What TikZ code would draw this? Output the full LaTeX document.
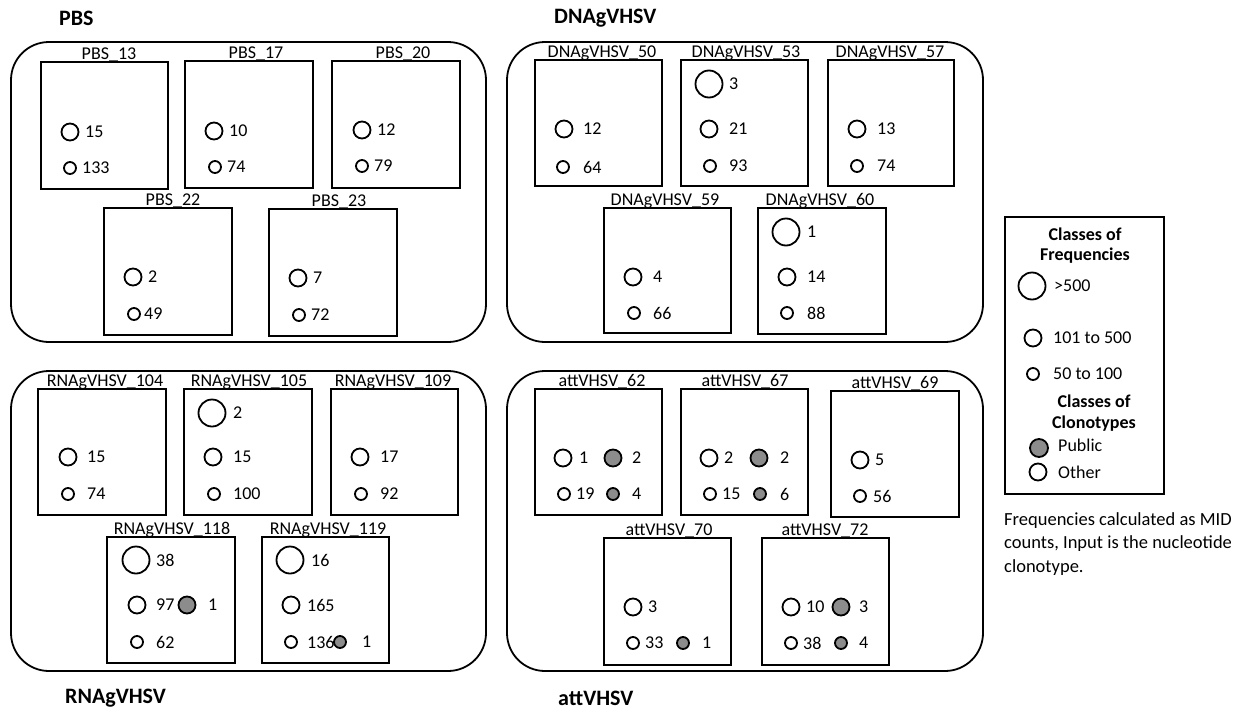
\documentclass[tikz,border=0pt]{standalone}
\usepackage{fontspec}
\setmainfont{Carlito}
\definecolor{pubgray}{RGB}{140,140,140}
\tikzset{
  grp/.style={draw, line width=1.8pt, rounded corners=38pt},
  sample/.style={draw, line width=2pt, inner sep=0pt, outer sep=0pt},
  slabel/.style={font=\fontsize{18}{20}\selectfont, inner sep=0pt, anchor=base},
  title/.style={font=\fontsize{22}{24}\selectfont\bfseries, inner sep=0pt, anchor=west},
  num/.style={font=\fontsize{18}{20}\selectfont, inner sep=0pt, anchor=west},
  freq/.style={circle, draw, line width=1.8pt, inner sep=0pt, outer sep=0pt},
  big/.style={freq, minimum size=27pt},
  mid/.style={freq, minimum size=17pt},
  small/.style={freq, minimum size=12pt},
  pub/.style={fill=pubgray},
}
% sample box: name, left, top, right, bottom, label, label centre x
\newcommand\samplebox[7]{%
  \node[sample, minimum width={#4-#2}, minimum height={#5-#3}]
    (#1) at ({(#2+#4)/2},{(#3+#5)/2}) {};
  \node[slabel] (#1-lab) at (#7,#3-3) {#6};
}
% circle with its count: name, style, centre x, centre y, text x, text
\newcommand\clone[6]{%
  \node[#2] (#1) at (#3,#4) {};
  \node[num] (#1-n) at (#5,#4) {#6};
}
\begin{document}
\begin{tikzpicture}[x=1pt, y=-1pt]
\useasboundingbox (0,0) rectangle (1239,712);

% ---------- group frames and titles ----------
\node[grp, minimum width=475, minimum height=300] (gPBS) at (248.5,192) {};
\node[grp, minimum width=476, minimum height=300] (gDNA) at (745,192) {};
\node[grp, minimum width=475, minimum height=300] (gRNA) at (248.5,521) {};
\node[grp, minimum width=476, minimum height=300] (gATT) at (745,521) {};

\node[title] (tPBS) at (59,18) {PBS};
\node[title] (tDNA) at (554,18) {DNAgVHSV};
\node[title] (tRNA) at (65,698) {RNAgVHSV};
\node[title] (tATT) at (558,698) {attVHSV};

% ---------- PBS ----------
\samplebox{p13}{41}{62}{168}{189}{PBS\_13}{109}
\clone{p13b}{mid}{70}{132}{85}{15}
\clone{p13c}{small}{70}{168}{82}{133}
\samplebox{p17}{185}{61}{313}{188}{PBS\_17}{256}
\clone{p17b}{mid}{214}{131}{229}{10}
\clone{p17c}{small}{215}{167}{227}{74}
\samplebox{p20}{332}{61}{460}{188}{PBS\_20}{403}
\clone{p20b}{mid}{362}{130}{377}{12}
\clone{p20c}{small}{362}{166}{374}{79}
\samplebox{p22}{104}{208}{232}{335}{PBS\_22}{173}
\clone{p22b}{mid}{133}{277}{148}{2}
\clone{p22c}{small}{134}{314}{144}{49}
\samplebox{p23}{269}{209}{397}{336}{PBS\_23}{339}
\clone{p23b}{mid}{298}{278}{313}{7}
\clone{p23c}{small}{299}{315}{311}{72}

% ---------- DNAgVHSV ----------
\samplebox{d50}{535}{60}{662}{186}{DNAgVHSV\_50}{602}
\clone{d50b}{mid}{564}{129}{583}{12}
\clone{d50c}{small}{563}{167}{583}{64}
\samplebox{d53}{681}{60}{808}{186}{DNAgVHSV\_53}{746}
\clone{d53a}{big}{709}{84}{729}{3}
\clone{d53b}{mid}{709}{129}{729}{21}
\clone{d53c}{small}{710}{166}{729}{93}
\samplebox{d57}{828}{60}{954}{186}{DNAgVHSV\_57}{890}
\clone{d57b}{mid}{857}{129}{877}{13}
\clone{d57c}{small}{857}{166}{877}{74}
\samplebox{d59}{604}{208}{731}{333}{DNAgVHSV\_59}{665}
\clone{d59b}{mid}{633}{277}{653}{4}
\clone{d59c}{small}{634}{313}{653}{66}
\samplebox{d60}{758}{208}{886}{334}{DNAgVHSV\_60}{820}
\clone{d60a}{big}{786}{232}{807}{1}
\clone{d60b}{mid}{787}{277}{807}{14}
\clone{d60c}{small}{787}{313}{807}{88}

% ---------- RNAgVHSV ----------
\samplebox{r104}{38}{389}{166}{515}{RNAgVHSV\_104}{105}
\clone{r104b}{mid}{68}{457}{87}{15}
\clone{r104c}{small}{68}{494}{87}{74}
\samplebox{r105}{184}{389}{312}{515}{RNAgVHSV\_105}{249}
\clone{r105a}{big}{212}{413}{233}{2}
\clone{r105b}{mid}{213}{457}{233}{15}
\clone{r105c}{small}{214}{494}{233}{100}
\samplebox{r109}{331}{389}{458}{515}{RNAgVHSV\_109}{393}
\clone{r109b}{mid}{360}{457}{380}{17}
\clone{r109c}{small}{361}{494}{380}{92}
\samplebox{r118}{107}{537}{235}{663}{RNAgVHSV\_118}{172}
\clone{r118a}{big}{136}{560}{156}{38}
\clone{r118b}{mid}{137}{605}{156}{97}
\clone{r118p}{mid,pub}{187}{605}{208}{1}
\clone{r118c}{small}{137}{642}{156}{62}
\samplebox{r119}{262}{537}{389}{663}{RNAgVHSV\_119}{328}
\clone{r119a}{big}{290}{560}{311}{16}
\clone{r119b}{mid}{291}{605}{307}{165}
\clone{r119c}{small}{291}{642}{307}{136}
\clone{r119p}{small,pub}{340}{642}{362}{1}

% ---------- attVHSV ----------
\samplebox{a62}{535}{389}{662}{515}{attVHSV\_62}{602}
\clone{a62b}{mid}{563}{458}{579}{1}
\clone{a62p}{mid,pub}{613}{458}{632}{2}
\clone{a62c}{small}{564}{494}{576}{19}
\clone{a62q}{small,pub}{613}{494}{632}{4}
\samplebox{a67}{681}{389}{808}{515}{attVHSV\_67}{745}
\clone{a67b}{mid}{709}{458}{724}{2}
\clone{a67p}{mid,pub}{759}{458}{780}{2}
\clone{a67c}{small}{710}{494}{722}{15}
\clone{a67q}{small,pub}{760}{494}{780}{6}
\samplebox{a69}{831}{391}{959}{517}{attVHSV\_69}{895}
\clone{a69b}{mid}{860}{460}{875}{5}
\clone{a69c}{small}{860}{496}{873}{56}
\samplebox{a70}{604}{538}{731}{665}{attVHSV\_70}{669}
\clone{a70b}{mid}{633}{607}{648}{3}
\clone{a70c}{small}{633}{643}{645}{33}
\clone{a70q}{small,pub}{683}{643}{702}{1}
\samplebox{a72}{762}{538}{889}{665}{attVHSV\_72}{825}
\clone{a72b}{mid}{791}{607}{806}{10}
\clone{a72p}{mid,pub}{841}{607}{859}{3}
\clone{a72c}{small}{791}{643}{803}{38}
\clone{a72q}{small,pub}{841}{643}{859}{4}

% ---------- legend ----------
\node[sample, minimum width=159, minimum height=277] (legend) at (1084.5,355.5) {};
\node[inner sep=0pt, anchor=base, font=\fontsize{18}{20}\selectfont\bfseries] (lfreq) at (1085,240)
  {\begin{tabular}[t]{@{}c@{}}Classes of\\Frequencies\end{tabular}};
\clone{lbig}{big}{1032}{286}{1054}{>500}
\clone{lmid}{mid}{1033}{338}{1053}{101 to 500}
\clone{lsmall}{small}{1033}{374}{1053}{50 to 100}
\node[inner sep=0pt, anchor=base, font=\fontsize{18}{21}\selectfont\bfseries] (lclono) at (1094,407)
  {\begin{tabular}[t]{@{}c@{}}Classes of\\Clonotypes\end{tabular}};
\node[mid, pub, minimum size=18pt] (lpub) at (1039,448) {};
\node[num] (lpub-n) at (1058,445) {Public};
\node[mid] (loth) at (1038,472) {};
\node[num] (loth-n) at (1058,472) {Other};

\node[inner sep=0pt, anchor=base west, font=\fontsize{18.5}{23.5}\selectfont] (note) at (1004,525)
  {\begin{tabular}[t]{@{}l@{}}Frequencies calculated as MID\\counts, Input is the nucleotide\\clonotype.\end{tabular}};
\end{tikzpicture}
\end{document}
